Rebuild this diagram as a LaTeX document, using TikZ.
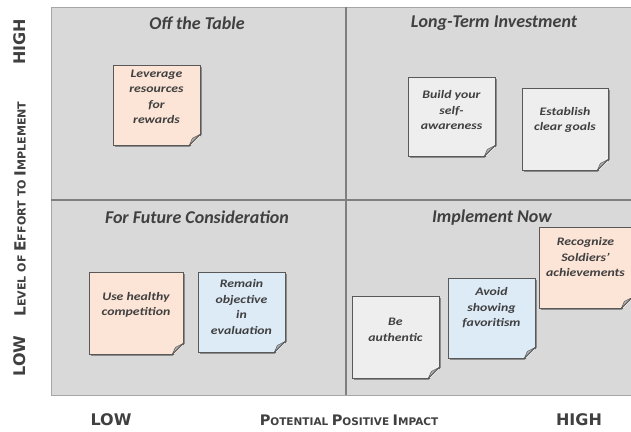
\documentclass[tikz,border=0pt]{standalone}
\usepackage{fontspec}
\setmainfont{Carlito}
\newfontfamily\axisfont{DejaVu Sans}
\newfontfamily\notefont[FakeStretch=1.2]{Carlito}
\usetikzlibrary{shadows,calc}

\definecolor{panel}{HTML}{D9D9D9}
\definecolor{panelline}{HTML}{A6A6A6}
\definecolor{divider}{HTML}{7F7F7F}
\definecolor{peach}{HTML}{FCE4D6}
\definecolor{skyblue}{HTML}{DDEBF7}
\definecolor{paper}{HTML}{EEEEEE}
\definecolor{noteedge}{HTML}{595959}
\definecolor{inktext}{HTML}{404040}
\definecolor{flap}{HTML}{B0B0B0}

% small caps built from two sizes of capitals
\newcommand{\fakesc}[2]{{\fontsize{14.5}{14.5}\selectfont #1}{\fontsize{10.5}{10.5}\selectfont #2}}
\newcommand{\fakescbig}[2]{{\fontsize{15.4}{15.4}\selectfont #1}{\fontsize{11.1}{11.1}\selectfont #2}}

\tikzset{
  note/.style={draw=noteedge, line width=0.7pt, fill=#1, inner sep=0pt,
    drop shadow={shadow xshift=1.8pt, shadow yshift=-1.8pt, opacity=0.55, fill=black!70}},
  notetext/.style={align=center, text=inktext, inner sep=0pt,
    font=\notefont\fontsize{11.5}{15.5}\selectfont\bfseries\itshape},
  quadtitle/.style={text=inktext, font=\fontsize{18}{18}\selectfont\bfseries\itshape},
  axisword/.style={text=inktext, font=\axisfont\fontsize{16}{16}\selectfont\bfseries},
  axisname/.style={text=inktext, font=\axisfont\bfseries},
}

% folded bottom-right corner of a note
\newcommand{\foldcorner}[1]{%
  \fill[panel] ($(#1.south east)+(-12pt,-3pt)$) -- ($(#1.south east)+(3pt,-3pt)$)
     -- ($(#1.south east)+(3pt,12pt)$) -- cycle;
  \filldraw[fill=flap, draw=noteedge, line width=0.5pt, line join=round]
     ($(#1.south east)+(-11pt,0pt)$) -- ($(#1.south east)+(0pt,11pt)$)
     -- ($(#1.south east)+(-8pt,7pt)$) -- cycle;
  \draw[noteedge, line width=0.7pt] ($(#1.south east)+(-11pt,0pt)$) -- ($(#1.south east)+(0pt,11pt)$);
}

\begin{document}
\begin{tikzpicture}[x=1pt, y=-1pt]
  \useasboundingbox (0,0) rectangle (631,431);
  \fill[white] (0,0) rectangle (631,431);

  % the four quadrants
  \filldraw[fill=panel, draw=panelline, line width=0.8pt] (51,7) rectangle (634,395);
  \draw[divider, line width=1.6pt] (346,7) -- (346,395);
  \draw[divider, line width=1.6pt] (51,200) -- (634,200);

  \node[quadtitle] (tOff)  at (197,23)  {Off the Table};
  \node[quadtitle] (tLong) at (494,23)  {Long-Term Investment};
  \node[quadtitle] (tFut)  at (197,217) {For Future Consideration};
  \node[quadtitle] (tNow)  at (492,218) {Implement Now};

  % sticky notes: frame first, then the fold, then the words
  \node[note=peach, minimum width=87pt, minimum height=80pt] (n1) at (156.5,105) {};
  \foldcorner{n1}
  \node[notetext] (w1) at ([yshift=8pt]n1.center) {Leverage\\resources\\for\\rewards};

  \node[note=paper, minimum width=87pt, minimum height=79pt] (n2) at (451.5,116.5) {};
  \foldcorner{n2}
  \node[notetext] (w2) at ([yshift=6pt]n2.center) {Build your\\self-\\awareness};

  \node[note=paper, minimum width=86pt, minimum height=82pt] (n3) at (565,129) {};
  \foldcorner{n3}
  \node[notetext] (w3) at ([yshift=9pt]n3.center) {Establish\\clear goals};

  \node[note=peach, minimum width=94pt, minimum height=82pt] (n4) at (136,313) {};
  \foldcorner{n4}
  \node[notetext] (w4) at ([yshift=8pt]n4.center) {Use healthy\\competition};

  \node[note=skyblue, minimum width=87pt, minimum height=80pt] (n5) at (241.5,312) {};
  \foldcorner{n5}
  \node[notetext] (w5) at ([yshift=5pt]n5.center) {Remain\\objective\\in\\evaluation};

  \node[note=paper, minimum width=87pt, minimum height=82pt] (n6) at (395.5,337) {};
  \foldcorner{n6}
  \node[notetext] (w6) at ([yshift=7pt]n6.center) {Be\\authentic};

  \node[note=skyblue, minimum width=87pt, minimum height=80pt] (n7) at (491.5,318) {};
  \foldcorner{n7}
  \node[notetext] (w7) at ([yshift=10pt]n7.center) {Avoid\\showing\\favoritism};

  \node[note=peach, minimum width=93pt, minimum height=81pt] (n8) at (585.5,267.5) {};
  \foldcorner{n8}
  \node[notetext] (w8) at ([yshift=10pt]n8.center) {Recognize\\Soldiers’\\achievements};

  % axes
  \node[axisword, rotate=90] (yHigh) at (20,42)  {HIGH};
  \node[axisword, rotate=90] (yLow)  at (20,356) {LOW};
  \node[axisname, rotate=90] (yName) at (20,209)
    {\fakescbig{L}{EVEL OF} \fakescbig{E}{FFORT TO} \fakescbig{I}{MPLEMENT}};
  \node[axisword] (xLow)  at (111,420) {LOW};
  \node[axisword] (xHigh) at (579,420) {HIGH};
  \node[axisname] (xName) at (349,420)
    {\fakesc{P}{OTENTIAL} \fakesc{P}{OSITIVE} \fakesc{I}{MPACT}};
\end{tikzpicture}
\end{document}
